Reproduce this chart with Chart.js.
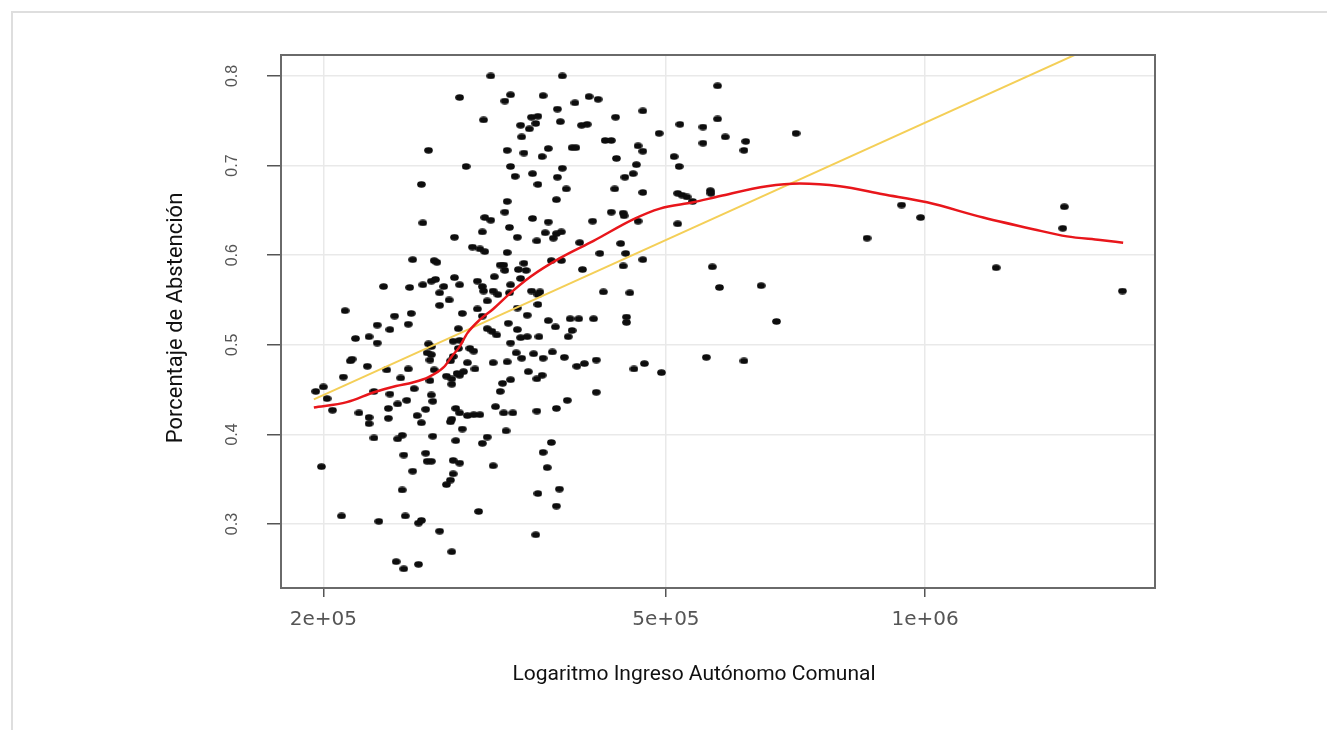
<!DOCTYPE html>
<html lang="es">
<head>
<meta charset="utf-8">
<title>Abstención e ingreso autónomo comunal</title>
<script src="https://cdn.jsdelivr.net/npm/chart.js@4.4.1/dist/chart.umd.min.js"></script>
<style>
  html, body { margin: 0; padding: 0; background: #fff; overflow: hidden; }
  #contenedor { position: absolute; left: 0; top: 0; width: 1327px; height: 730px; }
  #marco { position: absolute; left: 11px; top: 11px; width: 1400px; height: 800px;
    border-top: 2px solid #dedede; border-left: 2px solid #dedede; pointer-events: none; }
</style>
</head>
<body>
<div id="contenedor"><canvas id="grafico"></canvas></div>
<div id="marco"></div>
<script>
// ingreso autonomo comunal (miles de pesos) y porcentaje de abstencion
const comunas = [
  [313,0.800],[288,0.776],[307,0.751],[265,0.717],[293,0.699],[260,0.679],[261,0.636],[308,0.642],[313,0.639],[306,0.626],
  [284,0.620],[298,0.609],[304,0.607],[308,0.604],[254,0.595],[269,0.594],[271,0.592],[321,0.589],[235,0.565],[252,0.564],
  [261,0.567],[267,0.571],[270,0.573],[276,0.565],[273,0.558],[284,0.575],[288,0.567],[302,0.571],[306,0.565],[307,0.560],
  [316,0.576],[315,0.560],[319,0.556],[280,0.550],[273,0.544],[310,0.549],[302,0.540],[212,0.538],[242,0.532],[253,0.535],
  [290,0.535],[306,0.532],
  [231,0.522],[239,0.517],[251,0.523],[287,0.518],[310,0.518],[314,0.515],[318,0.511],[218,0.507],[226,0.509],[231,0.502],
  [265,0.501],[267,0.498],[283,0.504],[288,0.505],[264,0.491],[267,0.489],[287,0.496],[296,0.496],[299,0.493],[215,0.482],
  [216,0.484],[225,0.476],[266,0.483],[283,0.487],[281,0.482],[237,0.472],[251,0.473],[269,0.472],[294,0.480],[300,0.473],
  [291,0.470],[288,0.466],[286,0.468],[278,0.465],[282,0.462],[315,0.480],[211,0.464],[246,0.463],[266,0.460],[282,0.456],
  [196,0.448],[200,0.453],[255,0.451],[229,0.448],[202,0.440],[239,0.445],[267,0.444],[205,0.427],[220,0.424],[226,0.419],
  [226,0.412],[238,0.429],[238,0.418],[244,0.434],[250,0.438],[257,0.421],[260,0.413],[263,0.428],[268,0.437],[285,0.429],
  [288,0.424],[294,0.421],[299,0.422],[304,0.422],[282,0.417],[281,0.414],[290,0.406],[317,0.431],[229,0.396],[244,0.395],
  [247,0.399],[268,0.398],[285,0.393],[310,0.397],[306,0.390],[248,0.377],[263,0.379],[264,0.370],[267,0.370],[283,0.371],
  [288,0.368],[315,0.365],[199,0.364],[254,0.359],[283,0.356],[281,0.349],[278,0.344],[247,0.338],[210,0.309],[232,0.303],
  [249,0.309],[258,0.301],[260,0.304],[273,0.292],[303,0.314],[282,0.269],[243,0.258],[248,0.250],[258,0.255],
  [379,0.800],[330,0.779],[325,0.772],[360,0.778],[374,0.763],[392,0.770],[407,0.777],[417,0.774],[470,0.761],[437,0.754],
  [349,0.754],[355,0.755],[353,0.747],[339,0.745],[347,0.741],[377,0.749],[399,0.745],[405,0.746],[340,0.732],[425,0.728],
  [432,0.728],[491,0.736],[519,0.746],[552,0.743],[574,0.789],[574,0.752],[327,0.717],[342,0.714],[365,0.719],[359,0.710],
  [389,0.720],[393,0.720],[464,0.722],[470,0.716],[438,0.708],[552,0.725],[511,0.710],[518,0.699],[330,0.699],[334,0.688],
  [350,0.691],[355,0.679],[379,0.697],[374,0.687],[383,0.674],[373,0.662],[448,0.687],[458,0.691],[462,0.701],[436,0.674],
  [470,0.670],[327,0.660],[325,0.648],[350,0.641],[365,0.637],[329,0.631],[411,0.638],[432,0.648],[446,0.647],[447,0.644],
  [464,0.638],[516,0.669],[522,0.667],[529,0.665],[537,0.660],[563,0.672],[564,0.669],[516,0.635],[336,0.620],[362,0.625],
  [370,0.619],[373,0.624],[378,0.626],[354,0.616],[397,0.614],[443,0.613],[327,0.603],[419,0.602],[449,0.602],[446,0.588],
  [470,0.595],[368,0.594],[378,0.594],[324,0.589],[325,0.583],[337,0.584],[342,0.591],[344,0.583],[339,0.574],[400,0.584],
  [566,0.587],[330,0.567],[329,0.558],[349,0.560],[357,0.559],[355,0.556],[423,0.559],[454,0.558],[577,0.564],[336,0.541],
  [355,0.545],[387,0.529],[396,0.529],[412,0.529],[450,0.531],[345,0.533],
  [365,0.527],[372,0.520],[450,0.525],[328,0.524],[336,0.517],[389,0.516],[385,0.509],[339,0.508],[345,0.509],[356,0.509],
  [330,0.502],[335,0.491],[340,0.485],[351,0.490],[360,0.485],[369,0.492],[381,0.486],[327,0.481],[394,0.476],[402,0.479],
  [415,0.483],[346,0.470],[354,0.462],[359,0.466],[459,0.473],[472,0.479],[494,0.469],[557,0.486],[330,0.461],[323,0.457],
  [321,0.448],[415,0.447],[384,0.438],[373,0.429],[354,0.426],[324,0.424],[332,0.424],[326,0.404],[368,0.391],[360,0.380],
  [364,0.363],[376,0.339],[355,0.334],[373,0.320],[353,0.288],
  [586,0.732],[619,0.727],[616,0.717],[708,0.736],[939,0.656],[988,0.642],[856,0.619],[1451,0.654],[1445,0.630],[645,0.566],
  [672,0.526],[1209,0.586],[1695,0.560],[616,0.482]
]

// curva suavizada (loess) y recta de ajuste
const curvaLoess = [
  [195,0.430],[213,0.436],[229,0.447],[243,0.454],[254,0.458],[265,0.464],[276,0.475],[282,0.487],[288,0.498],[294,0.513],
  [304,0.528],[315,0.540],[330,0.558],[348,0.576],[377,0.597],[412,0.616],[458,0.640],[492,0.652],[538,0.659],[578,0.666],
  [655,0.677],[715,0.680],[796,0.677],[893,0.668],[1005,0.659],[1168,0.642],[1335,0.629],[1461,0.621],[1597,0.617],[1698,0.614]
]
const rectaAjuste = [[195,0.439],[1849,0.864]]

const ticksX = [2e5, 5e5, 1e6]
const etiquetasX = ['2e+05', '5e+05', '1e+06']
const ticksY = [0.3, 0.4, 0.5, 0.6, 0.7, 0.8]
const tituloX = 'Logaritmo Ingreso Autónomo Comunal'
const tituloY = 'Porcentaje de Abstención'
const MILES = 1000

function aPuntos(lista) {
  return lista.map((p) => ({ x: p[0] * MILES, y: p[1] }))
}

// punto ovalado como en el grafico original
const punto = document.createElement('canvas')
punto.width = 9
punto.height = 7
const pctx = punto.getContext('2d')
pctx.fillStyle = '#0d0d0d'
pctx.beginPath()
pctx.ellipse(4.5, 3.5, 4.3, 3.2, 0, 0, Math.PI * 2)
pctx.fill()

// caja del panel y titulos de los ejes
const marcoPanel = {
  id: 'marcoPanel',
  afterDraw(chart) {
    const ctx = chart.ctx
    const a = chart.chartArea
    ctx.save()
    ctx.strokeStyle = '#6a6a6a'
    ctx.lineWidth = 2
    ctx.strokeRect(a.left, a.top, a.right - a.left, a.bottom - a.top)
    ctx.fillStyle = '#111'
    ctx.textAlign = 'center'
    ctx.textBaseline = 'middle'
    ctx.font = '21px Roboto'
    ctx.fillText(tituloX, 694, 675)
    ctx.font = '22px Roboto'
    ctx.translate(176, 318)
    ctx.rotate(-Math.PI / 2)
    ctx.fillText(tituloY, 0, 0)
    ctx.restore()
  }
}

const ctx = document.getElementById('grafico').getContext('2d')
const myChart = new Chart(ctx, {
  type: 'scatter',
  data: {
    datasets: [
      {
        label: 'loess',
        type: 'line',
        data: aPuntos(curvaLoess),
        borderColor: '#e8161b',
        borderWidth: 2.5,
        pointRadius: 0,
        cubicInterpolationMode: 'monotone',
        fill: false,
        order: 0,
      },
      {
        label: 'ajuste lineal',
        type: 'line',
        data: aPuntos(rectaAjuste),
        borderColor: '#f4cf57',
        borderWidth: 2,
        pointRadius: 0,
        fill: false,
        order: 1,
      },
      {
        label: 'comunas',
        data: aPuntos(comunas),
        pointStyle: punto,
        pointRadius: 4,
        order: 2,
      },
    ],
  },
  options: {
    responsive: true,
    maintainAspectRatio: false,
    devicePixelRatio: 1,
    animation: false,
    events: [],
    layout: { padding: { left: 0, top: 55, right: 172, bottom: 0 } },
    plugins: {
      legend: { display: false },
      tooltip: { enabled: false },
    },
    scales: {
      x: {
        type: 'logarithmic',
        min: 178600,
        max: 1849000,
        afterBuildTicks: (s) => { s.ticks = ticksX.map((v) => ({ value: v })) },
        afterFit: (s) => { s.height = 142 },
        border: { display: false },
        grid: { color: '#e9e9e9', lineWidth: 1.5, tickColor: '#555', tickLength: 9, tickWidth: 1.5 },
        ticks: {
          autoSkip: false,
          maxRotation: 0,
          padding: 11,
          color: '#555',
          font: { family: 'DejaVu Sans', size: 20 },
          callback: (v) => etiquetasX[ticksX.indexOf(v)],
        },
      },
      y: {
        min: 0.2286,
        max: 0.8234,
        afterBuildTicks: (s) => { s.ticks = ticksY.map((v) => ({ value: v })) },
        afterFit: (s) => { s.width = 281 },
        border: { display: false },
        grid: { color: '#e9e9e9', lineWidth: 1.5, tickColor: '#555', tickLength: 14, tickWidth: 1.5 },
        ticks: {
          minRotation: 90,
          maxRotation: 90,
          crossAlign: 'center',
          padding: 23,
          color: '#555',
          font: { family: 'Liberation Sans', size: 16 },
          callback: (v) => v.toFixed(1),
        },
      },
    },
  },
  plugins: [marcoPanel],
})
</script>
</body>
</html>
